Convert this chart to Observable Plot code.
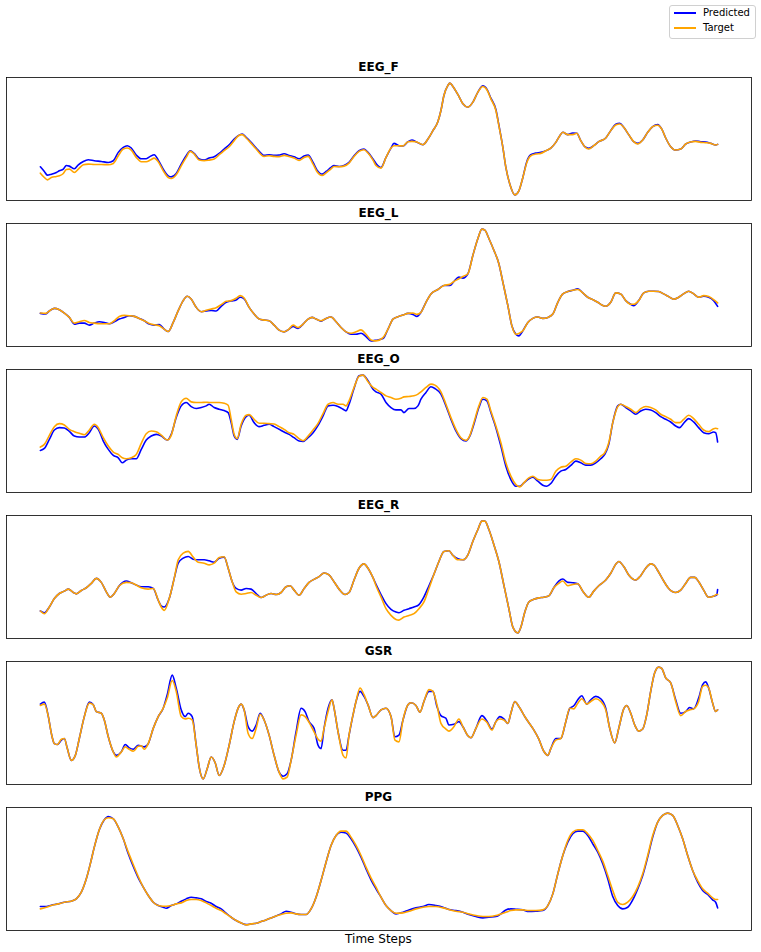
<!DOCTYPE html>
<html><head><meta charset="utf-8">
<script src="https://cdn.jsdelivr.net/npm/d3@7"></script>
<script src="https://cdn.jsdelivr.net/npm/@observablehq/plot@0.6"></script>
<style>
body{margin:0;background:#fff;font-family:"DejaVu Sans",sans-serif;}
#root{position:relative;width:761px;height:952px;overflow:hidden;background:#fff;}
.title{position:absolute;left:6px;width:745px;text-align:center;font-weight:bold;font-size:12px;line-height:14px;color:#000;}
#xlabel{position:absolute;left:6px;width:745px;top:932px;text-align:center;font-size:12px;line-height:14px;color:#000;}
#legend{position:absolute;left:669px;top:5px;width:85px;height:32px;border:1px solid #d0d0d0;border-radius:3px;background:#fff;}
.lgline{position:absolute;width:22px;height:2px;}
.lgtext{position:absolute;font-size:10px;line-height:12px;color:#000;white-space:nowrap;}
</style>
</head><body>
<div id="root">
  <div id="legend"></div>
  <div class="lgline" style="left:674px;top:12px;background:#0000ff"></div>
  <div class="lgtext" style="left:703px;top:7px">Predicted</div>
  <div class="lgline" style="left:674px;top:27px;background:#ffa500"></div>
  <div class="lgtext" style="left:703px;top:21.5px">Target</div>
  <div id="xlabel">Time Steps</div>
</div>
<script>
// ---------- data (time steps and signal values) ----------
const seriesNames = ["Predicted", "Target"];
const panelTitles = ["EEG_F", "EEG_L", "EEG_O", "EEG_R", "GSR", "PPG"];

const eegFSteps = [0,4,7,11,16,19,23,26,29,34,38,43,48,54,61,68,73,78,83,87,91,96,101,106,110,114,118,123,128,131,136,141,146,150,154,159,164,169,174,179,184,189,194,198,202,206,211,216,221,224,229,234,239,244,249,254,259,264,268,273,277,282,286,291,294,299,304,309,314,319,324,328,333,336,341,346,351,354,359,363,368,372,376,383,388,393,398,401,404,408,410,413,419,423,428,433,438,443,447,451,456,459,463,466,470,475,479,483,487,491,496,501,506,511,516,520,523,528,533,537,541,545,549,554,559,566,571,576,580,584,589,594,598,603,608,613,618,622,626,631,636,641,646,651,656,661,666,671,676,678];
const eegFPredicted = [102,88,77,80,85,90,95,106,104,96,108,118,123,120,118,115,120,145,160,165,158,137,126,126,133,138,122,95,75,72,82,110,135,150,142,125,122,128,132,142,155,168,185,195,200,190,175,158,142,136,138,136,137,141,136,132,126,134,137,115,92,80,88,100,106,103,106,115,135,150,155,145,125,112,100,130,158,172,165,164,177,182,177,168,185,210,237,270,315,345,352,342,312,290,280,295,325,344,334,307,273,227,160,100,50,18,30,70,118,138,143,145,150,158,175,195,205,198,203,202,180,162,157,165,177,188,210,229,232,220,198,177,172,182,205,222,228,215,188,162,152,155,170,176,179,177,176,172,167,169];
const eegFTarget = [83,70,63,70,73,75,82,94,95,85,95,108,110,109,109,108,112,135,155,158,152,130,117,117,122,128,117,90,70,67,78,105,130,148,140,122,120,122,125,138,150,162,180,194,198,188,172,155,138,133,135,133,132,136,133,128,121,130,133,110,87,76,84,96,103,102,104,113,133,148,153,143,122,106,98,130,158,165,165,164,177,178,177,168,185,210,237,270,315,345,352,342,312,290,280,295,325,342,332,305,270,225,160,100,50,18,30,70,115,135,140,142,150,158,175,195,205,198,198,202,180,162,155,165,177,188,210,227,230,220,198,177,170,182,205,222,226,215,188,162,152,155,170,176,178,175,174,172,167,169];

const eegLSteps = [0,5,9,14,19,24,29,34,39,44,49,54,59,64,69,74,79,84,89,94,99,104,109,114,119,124,128,133,138,143,147,151,156,161,166,171,176,181,186,191,196,200,204,209,214,219,224,229,234,239,244,248,253,258,263,268,272,276,281,286,291,296,301,306,311,316,321,326,331,336,343,348,353,358,363,368,373,377,381,386,391,398,404,410,414,419,423,428,433,438,442,445,449,454,459,463,468,472,476,479,483,488,493,498,503,508,513,518,523,528,533,538,543,548,553,558,562,566,571,576,581,586,591,594,599,604,609,614,619,624,629,634,639,644,649,654,659,664,669,674,678];
const eegLPredicted = [99,97,106,114,110,100,87,67,70,70,64,70,74,72,68,74,82,87,92,90,84,77,67,64,66,52,45,72,107,137,150,142,117,104,106,108,106,120,132,136,139,147,142,117,97,82,79,77,64,49,44,50,60,54,67,82,87,82,76,84,88,74,57,44,37,37,40,30,17,19,24,52,82,89,94,99,96,90,102,132,157,170,182,182,194,207,204,217,272,322,350,347,322,287,247,192,122,62,37,32,47,72,84,88,84,87,97,132,157,164,168,172,160,147,140,132,124,120,132,160,157,137,126,122,137,160,165,165,164,157,149,141,147,157,165,157,147,150,147,137,120];
const eegLTarget = [100,99,106,114,110,100,87,70,74,78,72,70,68,68,68,77,90,93,92,90,84,77,69,65,62,52,45,72,107,137,150,142,117,104,108,112,116,125,135,137,144,152,145,117,97,82,79,77,64,49,44,50,64,57,67,82,87,82,77,84,88,74,57,44,40,44,50,37,20,17,27,52,82,89,94,99,100,96,102,132,157,170,182,186,194,202,209,217,272,322,350,347,322,287,247,192,122,62,37,39,47,72,84,88,84,87,97,132,157,164,168,170,160,147,140,132,124,120,132,160,157,137,126,126,137,160,165,165,164,157,149,141,147,157,165,157,147,152,149,140,130];

const eegOSteps = [0,4,9,14,19,24,29,34,39,44,49,54,58,63,68,73,78,82,86,91,96,101,106,111,116,121,127,131,136,141,146,151,156,161,166,169,174,179,184,188,191,194,197,201,206,209,214,219,224,229,234,239,244,249,254,259,263,268,273,278,283,288,293,298,303,306,309,314,319,323,328,333,336,341,346,351,356,361,364,369,374,378,381,386,391,395,401,406,411,416,421,426,430,434,439,443,447,451,456,461,466,471,476,480,484,489,493,498,503,507,511,516,521,526,531,536,541,546,551,556,561,565,569,573,578,581,586,591,596,601,606,611,616,621,626,631,636,640,644,649,654,659,664,669,674,676,678];
const eegOPredicted = [127,133,160,188,195,194,184,170,167,167,180,200,190,155,130,112,105,90,98,102,102,130,158,170,175,170,158,175,225,260,270,258,252,255,260,265,255,250,246,240,210,170,160,200,228,232,210,198,202,205,198,190,182,175,165,155,154,165,180,202,230,260,262,258,250,245,265,312,350,352,335,310,302,295,270,255,248,248,240,252,252,260,280,300,317,312,295,260,220,185,162,155,170,205,255,280,275,240,195,140,80,40,20,20,30,42,47,35,23,20,28,50,65,70,82,95,90,83,83,90,102,115,145,210,260,265,255,245,235,245,250,248,240,228,220,212,200,195,208,222,212,195,180,177,182,180,152];
const eegOTarget = [137,145,172,198,207,203,190,183,178,174,188,205,195,165,140,122,115,105,102,105,115,148,177,185,183,173,158,172,230,272,283,272,270,270,271,270,270,270,268,262,220,175,162,205,232,234,220,208,208,207,206,198,190,180,175,162,156,170,188,208,237,265,270,265,265,260,275,315,348,352,332,315,310,300,290,285,280,283,287,288,290,295,302,315,325,322,302,265,225,190,165,157,172,210,260,285,280,245,200,150,90,50,25,18,30,45,50,40,38,38,40,65,77,80,92,102,98,88,87,95,110,120,150,210,258,265,258,250,240,252,258,255,248,235,228,220,210,210,220,232,222,205,188,183,192,193,192];

const eegRSteps = [0,4,9,14,19,24,28,33,36,41,46,51,56,61,66,70,74,79,86,91,96,101,108,113,118,121,124,129,134,138,143,148,153,158,164,169,174,179,184,188,192,196,201,206,211,216,221,226,231,236,241,246,250,254,259,264,269,274,279,284,289,294,299,305,309,314,319,324,328,333,336,341,346,351,356,359,364,369,374,379,384,389,394,399,404,409,413,418,423,428,433,438,442,445,449,454,459,464,469,473,478,481,485,489,494,499,504,509,514,519,523,528,533,538,543,549,554,559,566,571,576,579,584,589,596,601,606,611,614,619,624,629,636,641,646,651,655,659,664,669,674,677,678];
const eegRPredicted = [83,78,95,120,135,142,148,138,134,144,152,165,180,168,140,124,135,158,172,167,160,155,155,150,115,98,95,120,180,225,240,245,237,235,235,232,228,240,243,210,170,150,145,150,148,135,123,130,135,132,138,155,158,145,130,150,168,177,185,196,190,170,148,132,138,175,210,223,210,182,162,132,105,88,80,78,85,90,95,102,125,158,192,230,260,262,248,238,235,250,290,325,350,350,325,280,230,160,90,35,18,35,80,110,118,122,124,128,152,172,178,168,167,164,142,124,142,158,175,195,222,230,215,190,175,188,210,223,220,198,172,150,138,145,165,183,183,170,145,124,127,130,147];
const eegRTarget = [83,75,95,120,135,142,148,138,134,144,152,165,180,168,140,124,135,158,168,167,160,152,148,150,115,95,85,120,180,235,255,260,243,228,225,220,225,242,244,210,170,140,133,135,138,130,123,130,135,132,138,155,158,145,130,150,168,177,185,196,190,170,148,132,138,175,210,223,210,182,158,125,90,70,58,56,65,70,75,90,110,150,192,230,260,262,248,235,235,250,290,325,350,350,325,280,230,160,90,35,18,35,80,110,118,122,124,128,152,165,172,158,162,164,142,124,142,158,175,195,222,230,215,190,175,188,210,223,220,198,172,150,138,145,165,183,183,170,145,124,127,132,132];

const gsrSteps = [0,4,8,11,14,17,21,24,27,31,35,39,44,49,53,56,61,64,68,73,76,81,85,89,93,98,101,104,108,113,118,123,127,132,136,141,145,148,152,156,159,163,167,171,175,179,184,189,194,198,201,204,208,212,216,220,224,229,234,239,243,247,251,256,261,265,269,274,278,281,284,288,292,294,298,303,306,309,313,316,320,324,328,333,336,341,346,351,355,359,363,368,371,376,380,384,389,393,397,401,406,409,414,419,423,428,431,436,442,447,452,456,460,464,468,471,475,479,486,493,499,504,508,511,516,521,526,530,534,538,542,547,551,556,561,566,570,575,579,584,587,591,595,599,603,607,611,615,619,622,626,631,636,641,646,650,654,659,663,666,669,673,676,678];
const gsrPredicted = [242,248,205,155,125,122,135,140,110,75,90,140,205,248,240,220,215,195,145,100,90,100,122,112,108,120,118,115,125,170,205,230,270,328,290,225,205,215,205,120,55,20,50,85,68,30,60,120,190,230,242,225,175,162,180,215,195,150,90,40,28,35,75,160,230,220,190,170,120,110,170,230,255,230,160,105,105,150,210,250,280,265,240,202,208,225,230,205,145,150,195,240,246,238,218,250,280,280,235,208,200,180,182,190,175,148,142,170,208,192,168,190,205,198,185,215,250,235,200,170,138,102,90,110,140,140,190,230,237,255,267,242,255,265,258,230,170,127,170,228,238,215,180,162,168,210,280,335,352,348,320,305,255,215,220,232,228,260,300,308,290,245,220,225];
const gsrTarget = [238,242,205,155,125,122,138,140,110,75,90,140,205,245,240,220,215,195,145,100,85,100,115,108,102,117,118,108,125,170,205,230,260,312,280,205,198,200,195,120,55,20,50,85,68,30,60,120,190,230,242,225,155,140,170,212,195,150,90,40,20,25,75,150,210,205,188,160,138,132,170,220,255,230,160,90,82,150,210,250,290,270,240,202,208,225,230,205,135,130,195,240,246,238,218,250,285,280,240,185,168,162,175,198,175,148,142,170,198,188,165,190,198,195,185,215,250,235,200,170,138,102,90,110,135,140,190,230,228,245,258,242,250,258,250,225,170,127,170,228,238,215,180,162,168,210,280,335,352,348,320,305,250,208,220,225,228,250,295,298,290,245,220,225];

const ppgSteps = [0,6,11,18,24,31,36,41,46,50,54,59,64,68,73,78,83,88,93,98,103,108,113,118,123,126,131,136,141,146,151,156,161,166,171,176,181,186,191,196,201,206,211,216,221,226,231,236,241,246,251,256,261,266,271,276,281,286,291,296,301,306,311,316,321,326,331,336,341,346,351,356,363,369,376,383,389,396,403,409,416,423,429,436,443,449,456,461,466,471,476,483,489,496,503,508,513,518,523,528,533,538,543,548,553,558,563,568,573,578,583,588,593,598,603,608,613,618,623,628,633,638,643,648,653,658,663,668,673,676,678];
const ppgPredicted = [72,72,76,80,85,88,95,115,155,200,250,302,332,342,335,310,275,230,192,158,130,105,85,75,70,67,75,80,88,95,100,98,95,87,82,72,65,52,40,30,23,18,20,22,27,32,38,44,50,58,55,50,48,48,65,100,150,205,255,285,295,292,275,250,220,185,152,125,100,75,60,50,55,62,68,72,78,75,70,63,60,55,48,42,38,40,42,50,62,65,64,62,57,58,60,75,110,170,225,265,290,298,298,285,260,235,200,155,102,75,65,70,92,125,165,220,280,325,345,352,345,315,275,225,180,145,120,108,92,85,68];
const ppgTarget = [65,70,75,80,85,88,95,115,155,200,250,302,332,338,335,310,275,235,198,162,130,105,85,75,73,73,75,80,83,90,93,93,90,83,75,67,60,50,40,30,23,17,20,22,27,32,38,44,48,52,53,50,48,48,65,100,150,205,255,285,298,298,280,255,225,190,158,130,100,75,60,52,53,58,65,70,72,72,68,63,58,55,50,45,42,42,45,50,55,60,62,62,60,60,62,75,110,170,225,270,295,302,302,290,270,240,208,165,120,85,78,85,102,130,170,225,285,325,345,352,345,315,275,225,180,150,125,112,98,93,93];

// ---------- layout ----------
const panels = [
  {steps: eegFSteps, predicted: eegFPredicted, target: eegFTarget},
  {steps: eegLSteps, predicted: eegLPredicted, target: eegLTarget},
  {steps: eegOSteps, predicted: eegOPredicted, target: eegOTarget},
  {steps: eegRSteps, predicted: eegRPredicted, target: eegRTarget},
  {steps: gsrSteps, predicted: gsrPredicted, target: gsrTarget},
  {steps: ppgSteps, predicted: ppgPredicted, target: ppgTarget}
];
const frameTops = [77, 223, 369, 515, 661, 807];
const colors = {Predicted: "#0000ff", Target: "#ffa500"};

const root = document.getElementById("root");
const [xs0, xs1] = d3.extent(panels.flatMap(p => p.steps));
const xpad = (xs1 - xs0) * 0.05;

panels.forEach((p, i) => {
  const top = frameTops[i];
  const pred = p.steps.map((t, j) => ({t, v: p.predicted[j], s: seriesNames[0]}));
  const targ = p.steps.map((t, j) => ({t, v: p.target[j], s: seriesNames[1]}));
  const [lo, hi] = d3.extent([...p.predicted, ...p.target]);
  const pad = (hi - lo) * 0.05;
  const svg = Plot.plot({
    width: 761, height: 125,
    marginLeft: 6, marginRight: 10, marginTop: 1, marginBottom: 1,
    x: {domain: [xs0 - xpad, xs1 + xpad], axis: null},
    y: {domain: [lo - pad, hi + pad], axis: null},
    style: {background: "transparent", overflow: "visible"},
    marks: [
      Plot.line(pred, {x: "t", y: "v", stroke: colors.Predicted, strokeWidth: 1.6, curve: "monotone-x"}),
      Plot.line(targ, {x: "t", y: "v", stroke: colors.Target, strokeWidth: 1.6, curve: "monotone-x"}),
      Plot.frame({stroke: "#000", strokeWidth: 0.8})
    ]
  });
  svg.style.position = "absolute";
  svg.style.left = "0px";
  svg.style.top = (top - 1) + "px";
  root.appendChild(svg);
  const title = document.createElement("div");
  title.className = "title";
  title.style.top = (top - 17) + "px";
  title.textContent = panelTitles[i];
  root.appendChild(title);
});
</script>
</body></html>
